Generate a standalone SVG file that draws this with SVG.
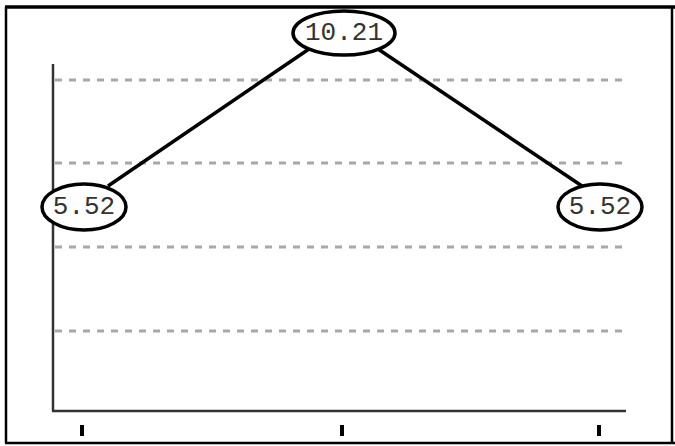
<svg xmlns="http://www.w3.org/2000/svg" width="675" height="446" viewBox="0 0 675 446">
<style>
.frame{stroke:#000;stroke-width:2.5;fill:none}
.top{stroke-width:3.5}
.axis{stroke:#333;stroke-width:2.5;fill:none}
.grid{stroke:#a8a8a8;stroke-width:3;stroke-dasharray:7,7;fill:none}
.tick{stroke:#000;stroke-width:4}
.edge{stroke:#000;stroke-width:3.5;fill:none}
.node ellipse{fill:#fff;stroke:#000;stroke-width:3.5}
.node text{font-family:"Liberation Mono","Courier New",monospace;font-size:26px;fill:#333;text-anchor:middle;dominant-baseline:central}
</style>
<rect width="675" height="446" fill="#fff"/>
<g id="frame">
<line class="frame top" x1="5" y1="7" x2="675" y2="7"/>
<line class="frame" x1="6" y1="7" x2="6" y2="443"/>
<line class="frame" x1="5" y1="443" x2="675" y2="443"/>
<line class="frame" x1="672" y1="7" x2="672" y2="443"/>
</g>
<g id="grid">
<line class="grid" x1="55" y1="80" x2="627" y2="80"/>
<line class="grid" x1="55" y1="163" x2="627" y2="163"/>
<line class="grid" x1="55" y1="247" x2="627" y2="247"/>
<line class="grid" x1="55" y1="331" x2="627" y2="331"/>
</g>
<g id="axes">
<line class="axis" x1="53" y1="64" x2="53" y2="411"/>
<line class="axis" x1="52" y1="411" x2="626" y2="411"/>
<line class="tick" x1="82" y1="425" x2="82" y2="436"/>
<line class="tick" x1="342" y1="425" x2="342" y2="436"/>
<line class="tick" x1="599" y1="425" x2="599" y2="436"/>
</g>
<g id="connectors">
<line class="edge" x1="309" y1="49" x2="108" y2="186"/>
<line class="edge" x1="378" y1="49" x2="582" y2="186"/>
</g>
<g id="node-top" class="node">
<ellipse cx="344" cy="33" rx="51" ry="22"/>
<text x="344" y="33">10.21</text>
</g>
<g id="node-left" class="node">
<ellipse cx="84" cy="207" rx="42" ry="23"/>
<text x="84" y="207">5.52</text>
</g>
<g id="node-right" class="node">
<ellipse cx="600" cy="207" rx="42" ry="23"/>
<text x="600" y="207">5.52</text>
</g>
</svg>
